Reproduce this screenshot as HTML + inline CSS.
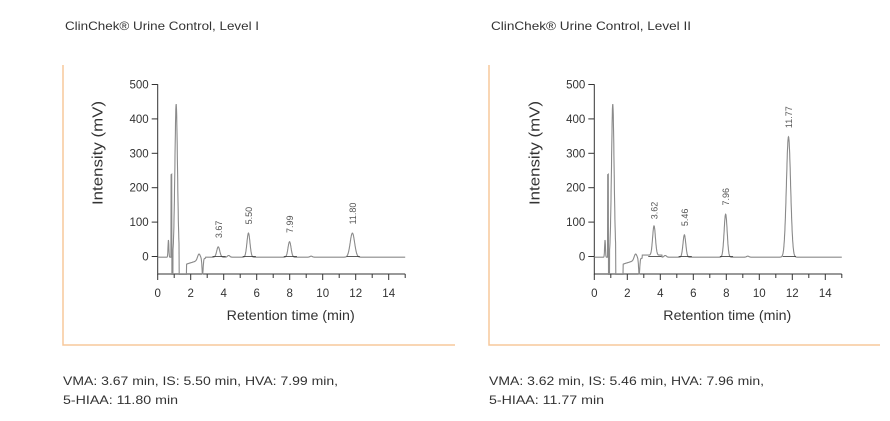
<!DOCTYPE html>
<html><head><meta charset="utf-8"><style>
html,body{margin:0;padding:0;background:#fff;}
svg{display:block;}
text{font-family:"Liberation Sans",Arial,sans-serif;}
</style></head><body>
<svg id="s" width="890" height="421" viewBox="0 0 890 421" xmlns="http://www.w3.org/2000/svg">
<rect width="890" height="421" fill="#fff"/>
<text x="65" y="30" font-size="12" fill="#333" textLength="194" lengthAdjust="spacingAndGlyphs">ClinChek® Urine Control, Level I</text>
<text x="491" y="30" font-size="12" fill="#333" textLength="200" lengthAdjust="spacingAndGlyphs">ClinChek® Urine Control, Level II</text>
<path d="M63 65 V345 H455" fill="none" stroke="#f7c89b" stroke-width="1.5"/>
<path d="M489 65 V345 H880" fill="none" stroke="#f7c89b" stroke-width="1.5"/>
<text x="63" y="385" font-size="12" fill="#333" textLength="275" lengthAdjust="spacingAndGlyphs">VMA: 3.67 min, IS: 5.50 min, HVA: 7.99 min,</text>
<text x="63" y="404" font-size="12" fill="#333" textLength="115" lengthAdjust="spacingAndGlyphs">5-HIAA: 11.80 min</text>
<text x="489" y="385" font-size="12" fill="#333" textLength="275" lengthAdjust="spacingAndGlyphs">VMA: 3.62 min, IS: 5.46 min, HVA: 7.96 min,</text>
<text x="489" y="404" font-size="12" fill="#333" textLength="115" lengthAdjust="spacingAndGlyphs">5-HIAA: 11.77 min</text>
<g id="c1"></g><g id="c2"></g>
</svg>
<script>
function build(gid, ox, peaks, lvl2){
  var g=document.getElementById(gid);
  var X=function(t){return ox+t*16.5;}, Y=function(v){return 256.5-v*0.344;};
  var h='';
  h+='<path d="M'+ox+' 84.3 V274 H'+X(15)+'" fill="none" stroke="#333" stroke-width="1"/>';
  for(var v=0;v<=500;v+=100){h+='<line x1="'+(ox-6)+'" x2="'+ox+'" y1="'+Y(v)+'" y2="'+Y(v)+'" stroke="#333"/>';
    h+='<text x="'+(ox-9)+'" y="'+(Y(v)+4)+'" font-size="11.5" fill="#333" text-anchor="end">'+v+'</text>';}
  for(var t=0;t<=15;t++){h+='<line x1="'+X(t)+'" x2="'+X(t)+'" y1="274" y2="'+(t%2==0?280:278)+'" stroke="#333"/>';
    if(t%2==0&&t<=14)h+='<text x="'+X(t)+'" y="297" font-size="11.5" fill="#333" text-anchor="middle">'+t+'</text>';}
  h+='<text x="'+(ox+133)+'" y="320" font-size="14" fill="#333" text-anchor="middle" textLength="128" lengthAdjust="spacingAndGlyphs">Retention time (min)</text>';
  h+='<text transform="translate('+(ox-55)+',153) rotate(-90)" font-size="15" fill="#333" text-anchor="middle" textLength="104" lengthAdjust="spacingAndGlyphs">Intensity (mV)</text>';
  function f(t){
    var v=-2;
    v+=50*Math.exp(-Math.pow((t-0.65)/0.035,2));
    v+=445*Math.exp(-Math.pow((t-1.12)/0.11,2));
    if(t>0.81&&t<0.86)v+=240; if(t>0.86&&t<0.93)v=-80;
    if(t>1.3&&t<1.5)v-=250;
    if(t>=1.5&&t<1.75)v=-80;
    if(t>=1.75&&t<2.9){v+= -20+ (t-1.75)*15 + 18*Math.exp(-Math.pow((t-2.5)/0.12,2)) - 45*Math.exp(-Math.pow((t-2.72)/0.05,2));}
    if(lvl2&&t>2.9&&t<4.1)v+=6;
    v+=5*Math.exp(-Math.pow((t-4.3)/0.1,2));
    v+=3*Math.exp(-Math.pow((t-9.3)/0.1,2));
    for(var i=0;i<peaks.length;i++){var p=peaks[i];v+=p[1]*Math.exp(-Math.pow((t-p[0])/p[2],2));}
    return Math.max(v,-52);
  }
  var d='';
  for(var t=0;t<=15;t+=0.01){d+=(d?'L':'M')+X(t).toFixed(1)+' '+Y(f(t)).toFixed(1);}
  h+='<path d="'+d+'" fill="none" stroke="#8a8a8a" stroke-width="1.1"/>';
  for(var i=0;i<peaks.length;i++){var p=peaks[i];
    h+='<line x1="'+X(p[0]-0.35)+'" x2="'+X(p[0]+0.45)+'" y1="'+Y(0)+'" y2="'+Y(0)+'" stroke="#333" stroke-width="0.8"/>';
    h+='<text transform="translate('+(X(p[0])+3.5)+','+(Y(p[1])-8)+') rotate(-90)" font-size="9" fill="#555">'+p[3]+'</text>';}
  g.innerHTML=h;
}
build('c1',157.7,[[3.67,30,0.13,'3.67'],[5.50,70,0.13,'5.50'],[7.99,45,0.13,'7.99'],[11.80,70,0.19,'11.80']],false);
build('c2',594.3,[[3.62,85,0.12,'3.62'],[5.46,65,0.12,'5.46'],[7.96,125,0.13,'7.96'],[11.77,350,0.18,'11.77']],true);
</script>
</body></html>
